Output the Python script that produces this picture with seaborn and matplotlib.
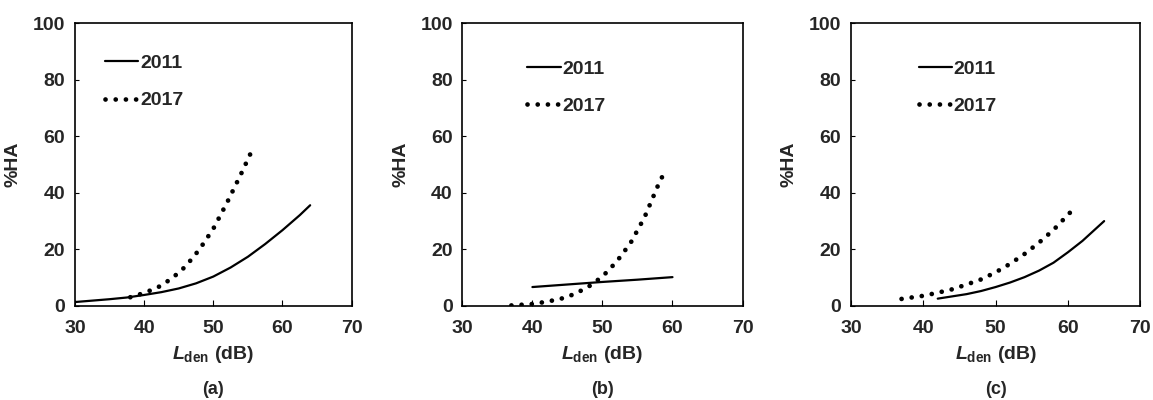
import matplotlib
matplotlib.use("Agg")
import matplotlib.pyplot as plt
import numpy as np
import pandas as pd
import seaborn as sns

sns.set_theme(style="white")
plt.rcParams["font.family"] = ["Liberation Sans", "DejaVu Sans"]
plt.rcParams["font.weight"] = "bold"
plt.rcParams["mathtext.fontset"] = "custom"
plt.rcParams["mathtext.rm"] = "Liberation Sans:bold"
plt.rcParams["mathtext.it"] = "Liberation Sans:italic:bold"
plt.rcParams["mathtext.bf"] = "Liberation Sans:bold"

# %% values (Lden in dB, %HA)
a_2011_x = [30, 32.5, 35, 37.5, 40, 42.5, 45, 47.5, 50, 52.5, 55, 57.5, 60, 62.5, 64]
a_2011_y = [1.4, 1.9, 2.4, 3.0, 3.9, 4.9, 6.2, 8.0, 10.4, 13.6, 17.4, 21.9, 26.8, 32.1, 35.6]
a_2017_x = [38, 40, 42, 44, 46, 48, 50, 52, 54, 55.5]
a_2017_y = [3.1, 4.6, 6.6, 9.7, 14.0, 20.0, 27.3, 36.6, 46.6, 54.5]

b_2011_x = [40, 45, 50, 55, 60]
b_2011_y = [6.7, 7.6, 8.5, 9.3, 10.2]
b_2017_x = [37, 40, 42, 44, 46, 48, 50, 52, 54, 56, 58, 59]
b_2017_y = [0.2, 0.7, 1.5, 2.5, 4.2, 6.8, 10.4, 15.6, 22.2, 31.3, 43.0, 48.0]

c_2011_x = [42, 44, 46, 48, 50, 52, 54, 56, 58, 60, 62, 65]
c_2011_y = [2.6, 3.4, 4.2, 5.3, 6.7, 8.3, 10.2, 12.5, 15.3, 19.0, 23.0, 30.0]
c_2017_x = [37, 40, 42, 44, 46, 48, 50, 52, 54, 56, 58, 60.4]
c_2017_y = [2.5, 3.6, 4.7, 5.9, 7.6, 9.4, 11.9, 14.9, 18.4, 22.4, 26.9, 33.3]

panels = [
    ("(a)", a_2011_x, a_2011_y, a_2017_x, a_2017_y, 0.065, 0.240, (0.045, 0.95)),
    ("(b)", b_2011_x, b_2011_y, b_2017_x, b_2017_y, 0.401, 0.243, (0.17, 0.929)),
    ("(c)", c_2011_x, c_2011_y, c_2017_x, c_2017_y, 0.738, 0.251, (0.174, 0.929)),
]

fig = plt.figure(figsize=(11.53, 4.0), dpi=100)

for name, x11, y11, x17, y17, left, width, leg_pos in panels:
    ax = fig.add_axes([left, 0.235, width, 0.7075])
    sns.lineplot(x=x11, y=y11, ax=ax, color="black", lw=1.6, label="2011")
    sns.lineplot(x=x17, y=y17, ax=ax, color="black", lw=3.4,
                 linestyle=(0, (0.01, 2.15)), dash_capstyle="round", label="2017")
    ax.set_xlim([30, 70])
    ax.set_ylim([0, 100])
    ax.set_xticks([30, 40, 50, 60, 70])
    ax.set_yticks([0, 20, 40, 60, 80, 100])
    ax.tick_params(axis="x", direction="in", length=4, width=0.8, color="black",
                   labelsize=14, pad=10, bottom=True)
    ax.tick_params(axis="y", direction="in", length=3, width=0.8, color="black",
                   labelsize=14, pad=7, left=True)
    for t in ax.get_xticklabels() + ax.get_yticklabels():
        t.set_fontweight("bold")
    for s in ax.spines.values():
        s.set_color("black")
        s.set_linewidth(1.2)
    ax.set_xlabel("$L_{\\rm den}$ (dB)", fontsize=14, fontweight="bold", labelpad=5)
    ax.set_ylabel("%HA", fontsize=14, fontweight="bold", labelpad=8)
    ax.text(0.5, -0.265, name, transform=ax.transAxes, ha="center", va="top",
            fontsize=13, fontweight="bold")
    leg = ax.legend(loc="upper left", bbox_to_anchor=leg_pos, frameon=False,
                    handlelength=1.7, handletextpad=0.1, labelspacing=1.0,
                    prop={"size": 14, "weight": "bold"})

fig.savefig("out.png", dpi=100)
